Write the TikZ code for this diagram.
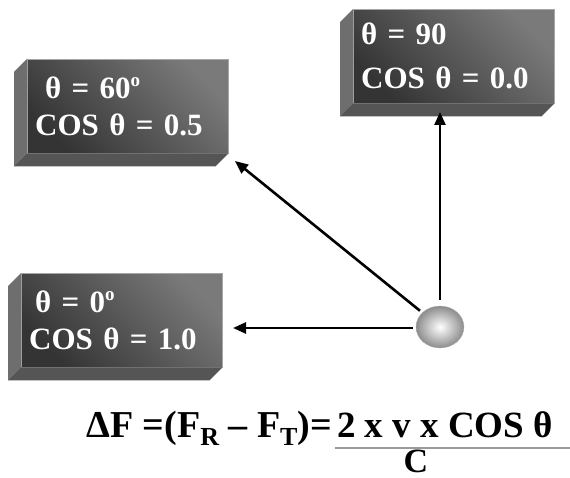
\documentclass[tikz,border=0pt]{standalone}
\usepackage{fontspec}
\setmainfont{Liberation Serif}
\usepackage{tikz}
\usetikzlibrary{shapes.geometric,arrows.meta,positioning,calc}
\definecolor{SlabDark}{HTML}{343434}
\definecolor{SlabLight}{HTML}{7A7A7A}
\definecolor{SlabSide}{HTML}{6E6E6E}
\definecolor{SlabBase}{HTML}{555555}
\definecolor{BallOut}{HTML}{8C8C8C}
\definecolor{RuleGray}{HTML}{9A9A9A}
\newcommand{\degO}{\raisebox{0.38em}{\fontsize{19}{19}\selectfont o}}
\newcommand{\lowIdx}[1]{\raisebox{-0.22em}{\fontsize{26}{26}\selectfont #1}}
\tikzset{
  % Slab front face
  SB/.style={rectangle,anchor=north west,
             minimum width=201pt,minimum height=94pt,
             text width=185pt,inner xsep=8pt,inner ysep=0pt,align=left,
             top color=SlabLight,bottom color=SlabDark,shading angle=-45,
             draw=gray!70,line width=0.4pt,text=white,
             font=\fontsize{31}{37}\selectfont\bfseries},
  % Slab bevels
  SL/.style={fill=SlabSide},
  SD/.style={fill=SlabBase},
  % Arrow
  arr/.style={-{Triangle[length=13pt,width=11pt]},line width=2.6pt},
  % Ball
  BL/.style={ellipse,minimum width=48pt,minimum height=42pt,inner sep=0pt,
             inner color=white,outer color=BallOut,draw=gray!60,line width=0.3pt},
  % Formula text
  FM/.style={font=\fontsize{37}{40}\selectfont\bfseries,inner sep=0pt}
}
\begin{document}
\begin{tikzpicture}[x=1pt,y=-1pt]
  \useasboundingbox (0,0) rectangle (570,478);

  \node[SB]                 (b60) at (27,59)  {\hspace*{10pt}θ = 60\degO\\COS θ = 0.5};
  \node[SB,font=\fontsize{31}{44}\selectfont\bfseries] (b90) at (353,9) {θ = 90\\COS θ = 0.0};
  \node[SB]                 (b0)  at (21,273) {\hspace*{6pt}θ = 0\degO\\COS θ = 1.0};

  \foreach \b in {b60,b90,b0}{
    \fill[SL] (\b.north west) -- ([shift={(-13,13)}]\b.north west)
              -- ([shift={(-13,13)}]\b.south west) -- (\b.south west) -- cycle;
    \fill[SD] (\b.south west) -- ([shift={(-13,13)}]\b.south west)
              -- ([shift={(-13,13)}]\b.south east) -- (\b.south east) -- cycle;
  }

  \node[BL] (ball) at (440,327) {};

  \coordinate (tip90) at (440,112);
  \coordinate (tip60) at (235,161);
  \coordinate (tip0)  at (233,328);

  \draw[arr,shorten <=6pt] (ball.north) -- (tip90);
  \draw[arr,shorten <=3pt] (ball) -- (tip60);
  \draw[arr,shorten <=3pt] (ball.west |- tip0) -- (tip0);

  \node[FM,anchor=base west,font=\fontsize{38}{40}\selectfont\bfseries] (lhs) at (86,437) {ΔF =(F\lowIdx{R} – F\lowIdx{T})=};
  \node[FM,anchor=base west] (num) at (337,437) {2 x v x COS θ};
  \coordinate (barL) at (335,448);
  \coordinate (barR) at (570,448);
  \draw[RuleGray,line width=1.8pt] (barL) -- (barR);
  \node[FM,anchor=base,font=\fontsize{34}{36}\selectfont\bfseries] (den) at (416,472) {C};
\end{tikzpicture}
\end{document}
